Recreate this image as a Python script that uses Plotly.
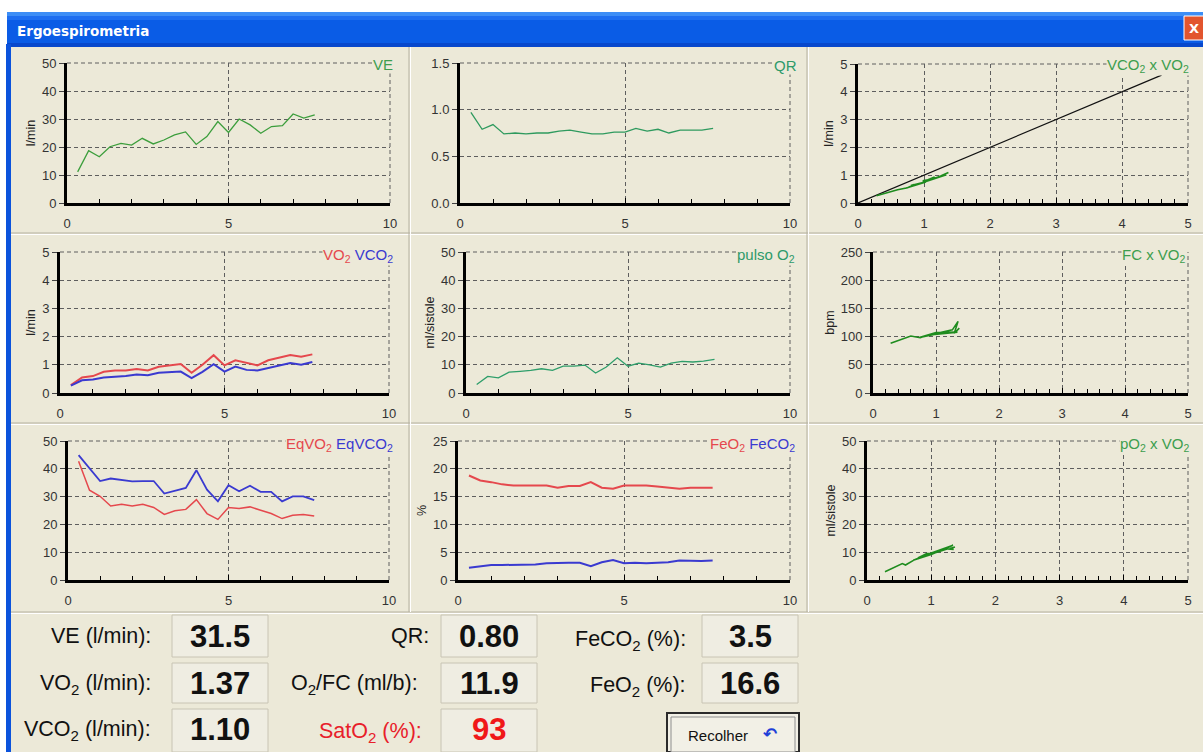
import plotly.graph_objects as go

# ---------------- data ----------------
time_min = [0.33, 0.67, 1.0, 1.33, 1.67, 2.0, 2.33, 2.67, 3.0, 3.33, 3.67, 4.0,
            4.33, 4.67, 5.0, 5.33, 5.67, 6.0, 6.33, 6.67, 7.0, 7.33, 7.67]
ve_lmin = [11.1, 18.7, 16.5, 20.1, 21.3, 20.7, 23.1, 21.1, 22.5, 24.3, 25.4, 20.9,
           23.7, 29.1, 25.2, 30.0, 27.9, 24.9, 27.3, 27.6, 31.8, 30.3, 31.5]
qr = [0.97, 0.79, 0.84, 0.74, 0.75, 0.74, 0.75, 0.75, 0.77, 0.78, 0.76, 0.74,
      0.74, 0.76, 0.76, 0.80, 0.77, 0.79, 0.75, 0.78, 0.78, 0.78, 0.80]
vo2 = [0.28, 0.55, 0.60, 0.75, 0.80, 0.80, 0.85, 0.80, 0.93, 0.99, 1.03, 0.72,
       1.00, 1.34, 0.98, 1.16, 1.07, 0.98, 1.16, 1.26, 1.35, 1.29, 1.37]
vco2 = [0.26, 0.45, 0.48, 0.55, 0.58, 0.60, 0.66, 0.63, 0.72, 0.75, 0.76, 0.53,
        0.75, 1.02, 0.76, 0.94, 0.82, 0.80, 0.88, 0.98, 1.06, 1.00, 1.10]
pulso_o2 = [3.0, 5.9, 5.4, 7.4, 7.7, 8.0, 8.6, 8.0, 9.5, 9.5, 9.9, 7.1,
            9.2, 12.5, 9.5, 10.6, 10.0, 9.2, 10.6, 11.2, 11.0, 11.3, 11.9]
fc_bpm = [88, 100, 101, 98, 100, 101, 102, 100, 103, 104, 105, 98,
          107, 108, 104, 109, 107, 105, 110, 112, 127, 106, 115]
eq_vo2 = [42.7, 32.3, 30.1, 26.6, 27.2, 26.6, 27.2, 26.1, 23.6, 24.9, 25.4, 28.9,
          23.9, 21.8, 26.1, 25.7, 26.3, 25.1, 23.9, 22.1, 23.3, 23.6, 23.0]
eq_vco2 = [44.9, 40.1, 35.6, 36.5, 36.1, 35.5, 35.6, 35.6, 31.1, 32.1, 33.1, 39.5,
           32.5, 28.3, 34.1, 31.9, 33.9, 31.7, 31.7, 28.3, 30.1, 30.1, 28.7]
fe_o2 = [18.8, 17.9, 17.6, 17.2, 17.0, 17.0, 17.0, 17.0, 16.6, 16.9, 16.9, 17.6,
         16.6, 16.4, 17.0, 17.0, 17.0, 16.8, 16.6, 16.4, 16.6, 16.6, 16.6]
fe_co2 = [2.2, 2.5, 2.7, 2.7, 2.7, 2.7, 2.8, 3.0, 3.1, 3.1, 3.1, 2.5,
          3.2, 3.6, 3.0, 3.1, 3.0, 3.1, 3.2, 3.5, 3.4, 3.4, 3.5]
identity_x = [0.0, 4.6]
identity_y = [0.0, 4.6]

panel_titles = ['VE', 'QR', 'VCO<sub>2</sub> x VO<sub>2</sub>',
                '<span style="color:#E5484D">VO<sub>2</sub></span> <span style="color:#3A3AD0">VCO<sub>2</sub></span>',
                'pulso O<sub>2</sub>', 'FC x VO<sub>2</sub>',
                '<span style="color:#E5484D">EqVO<sub>2</sub></span> <span style="color:#3A3AD0">EqVCO<sub>2</sub></span>',
                '<span style="color:#E5484D">FeO<sub>2</sub></span> <span style="color:#3A3AD0">FeCO<sub>2</sub></span>',
                'pO<sub>2</sub> x VO<sub>2</sub>']
y_titles = ['l/min', '', 'l/min', 'l/min', 'ml/sistole', 'bpm', '', '%', 'ml/sistole']

summary_labels = ['VE (l/min):', 'VO<sub>2</sub> (l/min):', 'VCO<sub>2</sub> (l/min):',
                  'QR:', 'O<sub>2</sub>/FC (ml/b):', 'SatO<sub>2</sub> (%):',
                  'FeCO<sub>2</sub> (%):', 'FeO<sub>2</sub> (%):']
summary_values = ['31.5', '1.37', '1.10', '0.80', '11.9', '93', '3.5', '16.6']
button_label = 'Recolher'
window_title = 'Ergoespirometria'

# ---------------- styling ----------------
W, H = 1203, 752
BG = '#ECE9D8'
RED = '#E5484D'
BLUE = '#3A3AD0'
GREEN_T = '#3D9E4E'
GRID = '#5E5E5E'
FONT = 'Liberation Sans, Arial, sans-serif'


def fx(x):
    return x / W


def fy(y):
    return 1 - y / H


# panel geometry in pixels: (left, right, top, bottom)
geom = [(67, 390, 63, 203), (460, 790, 63, 203), (858, 1188, 64, 203),
        (60, 389, 252, 393), (466, 790, 252, 393), (873, 1188, 252, 393),
        (68, 389, 441, 580), (458, 790, 441, 580), (867, 1188, 441, 580)]
xr = [[0, 10], [0, 10], [0, 5], [0, 10], [0, 10], [0, 5], [0, 10], [0, 10], [0, 5]]
xdt = [5, 5, 1, 5, 5, 1, 5, 5, 1]
xminor = [1, 1, 0.2, 1, 1, 0.2, 1, 1, 0.2]
yr = [[0, 50], [0, 1.5], [0, 5], [0, 5], [0, 50], [0, 250], [0, 50], [0, 25], [0, 50]]
ydt = [10, 0.5, 1, 1, 10, 50, 10, 5, 10]
yfmt = ['', '.1f', '', '', '', '', '', '', '']
title_pos = [(394, 64), (798, 66), (1190, 66), (394, 255), (796, 255), (1187, 255),
             (394, 444), (796, 444), (1190, 444)]
title_col = [GREEN_T, '#2E9A6A', GREEN_T, None, '#2E9A6A', GREEN_T, None, None, GREEN_T]

fig = go.Figure()


def add(i, x, y, color, width=1.3):
    sfx = '' if i == 0 else str(i + 1)
    fig.add_trace(go.Scatter(x=x, y=y, mode='lines', line=dict(color=color, width=width),
                             xaxis='x' + sfx, yaxis='y' + sfx, showlegend=False,
                             hoverinfo='skip'))


add(0, time_min, ve_lmin, '#3C9E3C')
add(1, time_min, qr, '#2E9A5E')
add(2, identity_x, identity_y, '#111111', 1.2)
add(2, vo2, vco2, '#1E8C1E', 1.6)
add(3, time_min, vo2, RED, 2)
add(3, time_min, vco2, BLUE, 2)
add(4, time_min, pulso_o2, '#2E9E6A')
add(5, vo2, fc_bpm, '#1E8C1E', 1.6)
add(6, time_min, eq_vo2, RED, 1.5)
add(6, time_min, eq_vco2, BLUE, 1.8)
add(7, time_min, fe_o2, RED, 2)
add(7, time_min, fe_co2, BLUE, 2)
add(8, vo2, pulso_o2, '#1E8C1E', 1.6)

layout = dict(width=W, height=H, margin=dict(l=0, r=0, t=0, b=0, autoexpand=False),
              template='none',
              paper_bgcolor='white', plot_bgcolor=BG, showlegend=False,
              font=dict(family=FONT, size=13, color='#2a2a2a'))

grid = dict(showgrid=True, gridcolor=GRID, gridwidth=1, griddash='4px,3px',
            zeroline=False, showline=True, linecolor='black', linewidth=3,
            automargin=False,
            tickfont=dict(family=FONT, size=13, color='#333333'), fixedrange=True)

shapes = []

for i in range(9):
    sfx = '' if i == 0 else str(i + 1)
    l, r, t, b = geom[i]
    xa = dict(grid, domain=[fx(l), fx(r)], range=xr[i],
              tickmode='linear', tick0=0,
              dtick=xdt[i], anchor='y' + sfx, ticks='inside', ticklen=5,
              tickcolor='black', ticklabelstandoff=6,
              minor=dict(dtick=xminor[i], tick0=0, ticks='inside', ticklen=4,
                         tickcolor='black', showgrid=False))
    ya = dict(grid, domain=[fy(b), fy(t)], range=yr[i],
              tickmode='linear', tick0=0,
              dtick=ydt[i], anchor='x' + sfx, ticks='outside', ticklen=5,
              tickcolor='#444444')
    if yfmt[i]:
        ya['tickformat'] = yfmt[i]
    if y_titles[i]:
        ya['title'] = dict(text=y_titles[i], font=dict(family=FONT, size=12.5, color='#222'),
                           standoff=4)
    layout['xaxis' + sfx] = xa
    layout['yaxis' + sfx] = ya
    # dashed outer grid lines at the top and right edges of each plot
    xref = 'x' + sfx + ' domain'
    yref = 'y' + sfx + ' domain'
    shapes.append(dict(type='line', xref=xref, yref=yref, x0=0, x1=1, y0=1, y1=1,
                       line=dict(color=GRID, width=1, dash='4px,3px'), layer='below'))
    shapes.append(dict(type='line', xref=xref, yref=yref, x0=1, x1=1, y0=0, y1=1,
                       line=dict(color=GRID, width=1, dash='4px,3px'), layer='below'))


def rect(x0, y0, x1, y1, fill, line=None, lw=0, layer='below'):
    shapes.insert(0, dict(type='rect', xref='paper', yref='paper', x0=fx(x0), x1=fx(x1),
                          y0=fy(y1), y1=fy(y0), fillcolor=fill,
                          line=dict(color=line or fill, width=lw), layer=layer))


def hline(x0, x1, y, color, w=1):
    shapes.append(dict(type='line', xref='paper', yref='paper', x0=fx(x0), x1=fx(x1),
                       y0=fy(y), y1=fy(y), line=dict(color=color, width=w), layer='below'))


def vline(x, y0, y1, color, w=1):
    shapes.append(dict(type='line', xref='paper', yref='paper', x0=fx(x), x1=fx(x),
                       y0=fy(y0), y1=fy(y1), line=dict(color=color, width=w), layer='below'))


# value boxes and button (inserted at front, drawn after the frame below)
box_geom = [(172, 615, 268, 657), (172, 663, 268, 703), (172, 709, 268, 752),
            (441, 615, 537, 657), (441, 663, 537, 703), (441, 709, 537, 752),
            (702, 615, 798, 657), (702, 663, 798, 703)]
rect(671, 717, 795, 752, '#F2F0E6', '#8E8E8E', 1)
rect(667, 713, 799, 752, '#F2F0E6', '#2B2B2B', 2)
for (x0, y0, x1, y1) in reversed(box_geom):
    rect(x0, y0, x1, y1, '#EFEDE2', '#C8C4B4', 1)

# window frame (inserted at the very front so it is drawn first)
rect(6, 44, 11, 752, '#0B53DC')
rect(7, 43, 1203, 47, '#0848CC')
rect(7, 16, 1203, 20, '#1E6EF0')
rect(7, 12, 1203, 16, '#3D8EF6')
rect(7, 12, 1203, 47, '#0A5CE6')
rect(7, 12, 1203, 752, BG)
shapes.append(dict(type='rect', xref='paper', yref='paper', x0=fx(1184), x1=fx(1206),
                   y0=fy(40), y1=fy(16), fillcolor='#E2552E',
                   line=dict(color='#FFFFFF', width=1), layer='above'))

# panel dividers (sunken look)
for y in (233, 423, 612):
    hline(11, 1203, y, '#B5B1A1', 1)
    hline(11, 1203, y + 1.5, '#FFFFFF', 1)
for x in (409, 807):
    vline(x, 47, 612, '#B5B1A1', 1)
    vline(x + 1.5, 47, 612, '#FFFFFF', 1)

annotations = []
# window title
annotations.append(dict(text='<b>' + window_title + '</b>', x=fx(15), y=fy(31),
                        xref='paper', yref='paper', xanchor='left', yanchor='middle',
                        showarrow=False, font=dict(family='DejaVu Sans', size=13.5, color='white')))
annotations.append(dict(text='<b>X</b>', x=fx(1194), y=fy(28), xref='paper', yref='paper',
                        xanchor='center', yanchor='middle', showarrow=False,
                        font=dict(family='DejaVu Sans', size=13, color='white')))

# panel titles
for i in range(9):
    x, y = title_pos[i]
    annotations.append(dict(text=panel_titles[i], x=fx(x), y=fy(y), xref='paper', yref='paper',
                            xanchor='right', yanchor='middle', showarrow=False,
                            bgcolor=BG, borderpad=0,
                            font=dict(family=FONT, size=15, color=title_col[i] or '#222')))

# summary labels & values
label_pos = [(153, 636), (153, 684), (153, 730), (431, 636), (420, 684), (424, 732),
             (688, 640), (688, 686)]
for i, lab in enumerate(summary_labels):
    x, y = label_pos[i]
    col = '#E8202A' if i == 5 else '#111111'
    annotations.append(dict(text=lab, x=fx(x), y=fy(y), xref='paper', yref='paper',
                            xanchor='right', yanchor='middle', showarrow=False,
                            font=dict(family=FONT, size=21.5, color=col)))
value_y = [636, 683, 729, 636, 683, 729, 636, 683]
for i, val in enumerate(summary_values):
    x0, y0, x1, y1 = box_geom[i]
    col = '#F01818' if i == 5 else '#111111'
    annotations.append(dict(text='<b>' + val + '</b>', x=fx((x0 + x1) / 2), y=fy(value_y[i]),
                            xref='paper', yref='paper', xanchor='center', yanchor='middle',
                            showarrow=False, font=dict(family=FONT, size=31, color=col)))

annotations.append(dict(text=button_label, x=fx(718), y=fy(735), xref='paper', yref='paper',
                        xanchor='center', yanchor='middle', showarrow=False,
                        font=dict(family=FONT, size=15, color='#111111')))
annotations.append(dict(text='<b>↶</b>', x=fx(770), y=fy(734), xref='paper', yref='paper',
                        xanchor='center', yanchor='middle', showarrow=False,
                        font=dict(family='DejaVu Sans', size=17, color='#1F3FD8')))

layout['shapes'] = shapes
layout['annotations'] = annotations
fig.update_layout(**layout)

fig.write_html('out.html', config={'displayModeBar': False},
               post_script="document.body.style.margin='0';document.body.style.overflow='hidden';")
